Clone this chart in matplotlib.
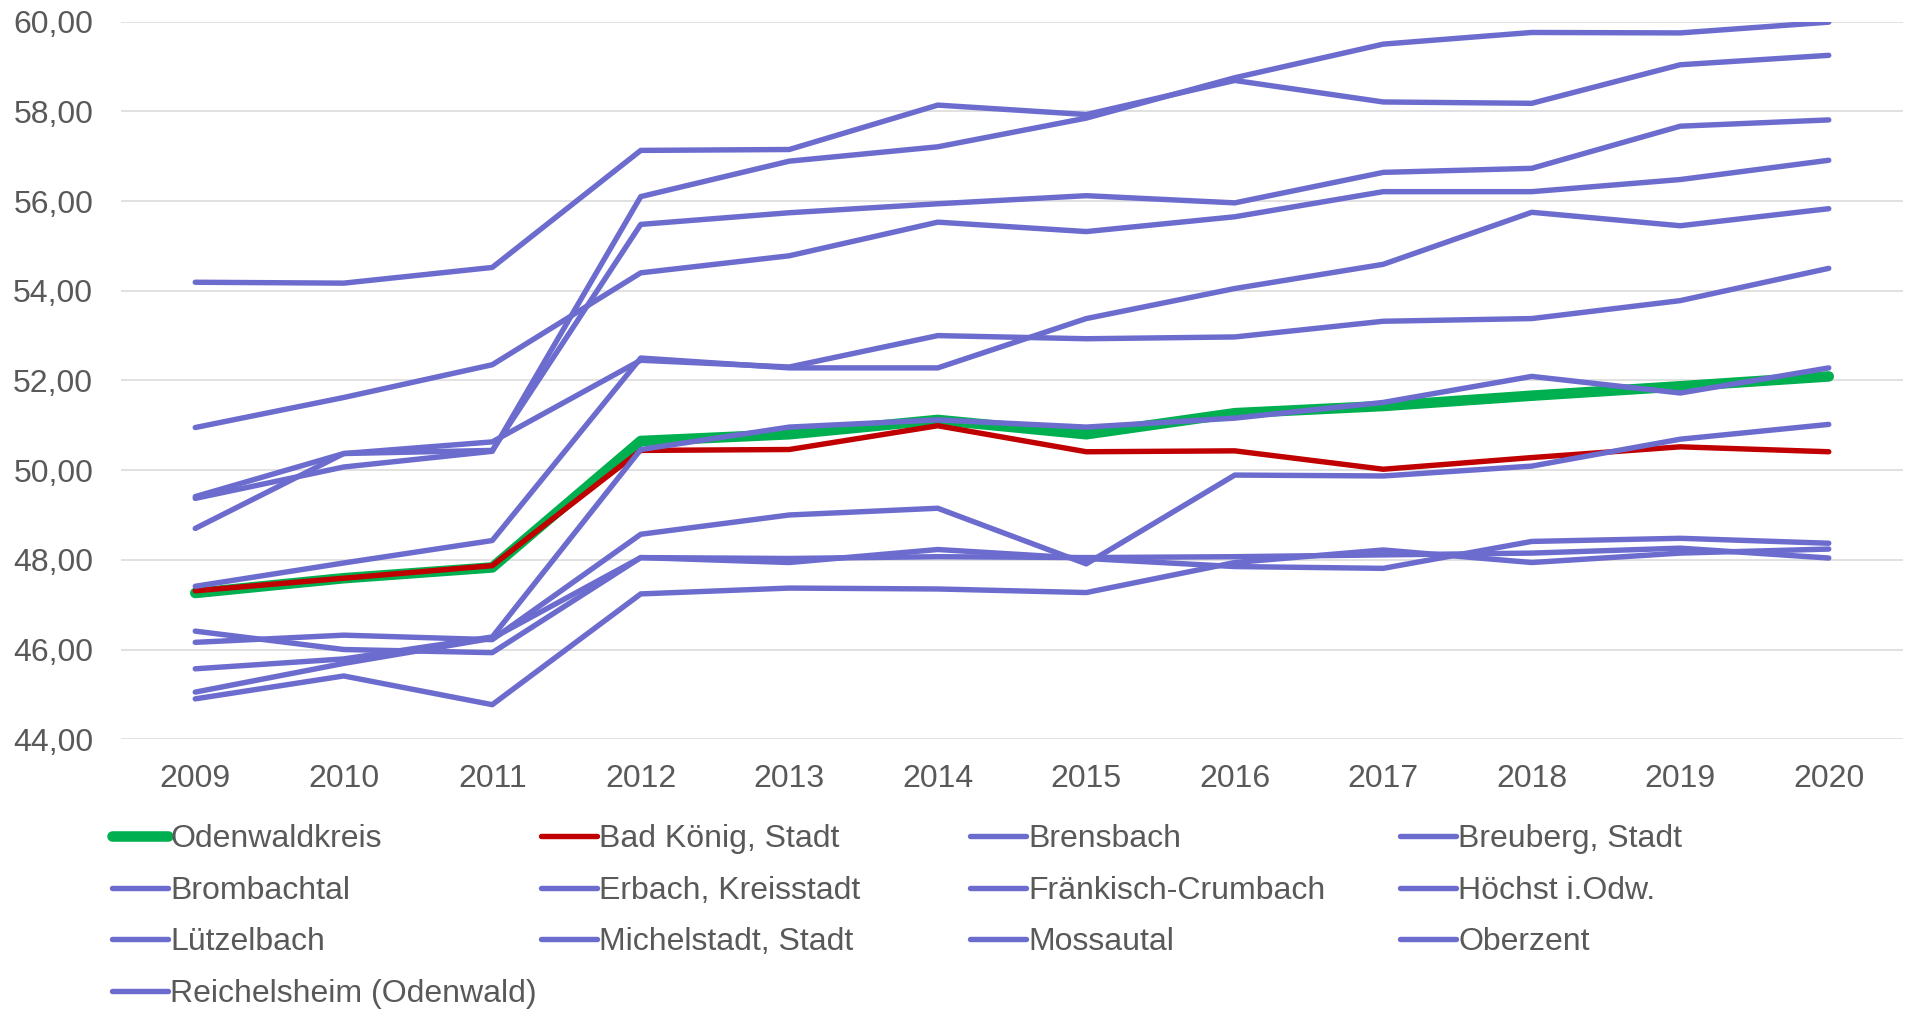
import matplotlib
matplotlib.use("Agg")
import matplotlib.pyplot as plt
from matplotlib.ticker import FuncFormatter

years = [2009, 2010, 2011, 2012, 2013, 2014, 2015, 2016, 2017, 2018, 2019, 2020]

odenwaldkreis = [47.26, 47.59, 47.83, 50.65, 50.80, 51.12, 50.80, 51.27, 51.43, 51.66, 51.87, 52.09]
bad_koenig    = [47.31, 47.59, 47.87, 50.44, 50.46, 50.99, 50.41, 50.43, 50.02, 50.28, 50.52, 50.41]
brensbach     = [54.19, 54.17, 54.52, 57.13, 57.15, 58.14, 57.93, 58.69, 58.21, 58.18, 59.04, 59.25]
breuberg      = [49.37, 50.07, 50.42, 56.10, 56.89, 57.21, 57.85, 58.75, 59.50, 59.76, 59.75, 59.99]
brombachtal   = [48.70, 50.37, 50.44, 55.48, 55.74, 55.94, 56.12, 55.96, 56.64, 56.73, 57.67, 57.81]
erbach        = [50.95, 51.62, 52.35, 54.40, 54.78, 55.53, 55.32, 55.65, 56.21, 56.21, 56.48, 56.91]
fraenkisch    = [49.41, 50.37, 50.63, 52.45, 52.30, 53.00, 52.93, 52.97, 53.32, 53.38, 53.78, 54.50]
hoechst       = [47.41, 47.93, 48.43, 52.50, 52.28, 52.28, 53.38, 54.05, 54.59, 55.75, 55.45, 55.83]
luetzelbach   = [45.57, 45.79, 46.28, 50.46, 50.96, 51.12, 50.96, 51.16, 51.51, 52.09, 51.72, 52.28]
michelstadt   = [46.16, 46.32, 46.22, 48.57, 49.00, 49.15, 47.91, 49.89, 49.87, 50.09, 50.69, 51.02]
mossautal     = [46.41, 46.00, 45.93, 48.05, 48.03, 48.07, 48.05, 48.07, 48.11, 48.15, 48.26, 48.04]
oberzent      = [45.05, 45.69, 46.25, 48.05, 47.94, 48.23, 48.03, 47.85, 47.81, 48.41, 48.48, 48.37]
reichelsheim  = [44.90, 45.41, 44.77, 47.24, 47.37, 47.35, 47.27, 47.94, 48.22, 47.94, 48.15, 48.24]

names = ["Odenwaldkreis", "Bad König, Stadt", "Brensbach", "Breuberg, Stadt",
         "Brombachtal", "Erbach, Kreisstadt", "Fränkisch-Crumbach", "Höchst i.Odw.",
         "Lützelbach", "Michelstadt, Stadt", "Mossautal", "Oberzent",
         "Reichelsheim (Odenwald)"]
series = [odenwaldkreis, bad_koenig, brensbach, breuberg, brombachtal, erbach,
          fraenkisch, hoechst, luetzelbach, michelstadt, mossautal, oberzent,
          reichelsheim]

yticks = [44, 46, 48, 50, 52, 54, 56, 58, 60]

GREEN = "#00B050"
RED = "#C00000"
BLUE = "#6C6CCF"
TXT = "#595959"

plt.rcParams['font.family'] = ['Liberation Sans', 'DejaVu Sans']

fig = plt.figure(figsize=(19.06, 10.09), dpi=100)
ax = fig.add_axes([121/1906, 1 - 739.2/1009, (1903-121)/1906, (739.2-21.7)/1009])

handles = []
for i, (name, vals) in enumerate(zip(names, series)):
    if i == 0:
        col, lw = GREEN, 7.6
    elif i == 1:
        col, lw = RED, 3.9
    else:
        col, lw = BLUE, 3.9
    ln, = ax.plot(years, vals, color=col, lw=lw, label=name,
                  solid_capstyle='round', solid_joinstyle='round', zorder=3 + i)
    handles.append(ln)

ax.set_xlim(2008.5, 2020.5)
ax.set_ylim(44, 60)
ax.set_yticks(yticks)
ax.set_xticks(years)
ax.yaxis.set_major_formatter(FuncFormatter(lambda v, p: f"{v:.2f}".replace('.', ',')))
ax.grid(axis='y', color='#D9D9D9', lw=1.1, zorder=0)
ax.set_axisbelow(True)
for s in ax.spines.values():
    s.set_visible(False)
ax.tick_params(axis='both', length=0, labelsize=23, labelcolor=TXT)
ax.tick_params(axis='x', pad=17.5)
ax.tick_params(axis='y', pad=20)

# legend: four columns, row-major order as in the source
col_x = [112, 541, 970, 1400]
top_y = 824
for c in range(4):
    idx = list(range(c, len(names), 4))
    leg = fig.legend([handles[i] for i in idx], [names[i] for i in idx],
                     loc='upper left', bbox_to_anchor=(col_x[c]/1906, 1 - top_y/1009),
                     frameon=False, fontsize=23, labelcolor=TXT,
                     handlelength=1.75, handletextpad=0.08, borderpad=0,
                     borderaxespad=0, labelspacing=0.68)

fig.savefig("out.png", dpi=100, facecolor='white')
